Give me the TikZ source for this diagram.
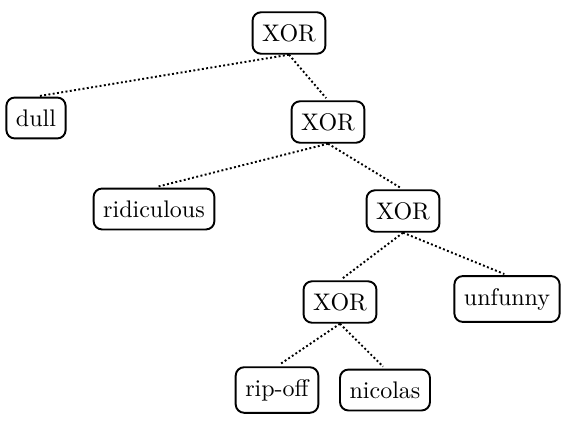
\documentclass[tikz,border=0pt]{standalone}
\begin{document}
\begin{tikzpicture}[x=0.4167pt,y=-0.4167pt,
  tn/.style={draw,thick,rounded corners=3.5pt,inner xsep=4pt,inner ysep=5pt,font=\normalsize},
  ed/.style={densely dotted,line width=0.8pt,shorten >=1.2pt}]
\useasboundingbox (0,0) rectangle (566,420);
\node[tn] (a) at (289,33) {XOR};
\node[tn] (dull) at (36,118) {dull};
\node[tn] (b) at (328,122) {XOR};
\node[tn] (rid) at (154,209) {ridiculous};
\node[tn] (c) at (403,211) {XOR};
\node[tn] (d) at (340,302) {XOR};
\node[tn] (unf) at (507,299) {unfunny};
\node[tn] (rip) at (277,390) {rip-off};
\node[tn] (nic) at (385,390) {nicolas};
\draw[ed] (a.south) -- (dull.north);
\draw[ed] (a.south) -- (b.north);
\draw[ed] (b.south) -- (rid.north);
\draw[ed] (b.south) -- (c.north);
\draw[ed] (c.south) -- (d.north);
\draw[ed] (c.south) -- (unf.north);
\draw[ed] (d.south) -- (rip.north);
\draw[ed] (d.south) -- (nic.north);
\end{tikzpicture}
\end{document}
